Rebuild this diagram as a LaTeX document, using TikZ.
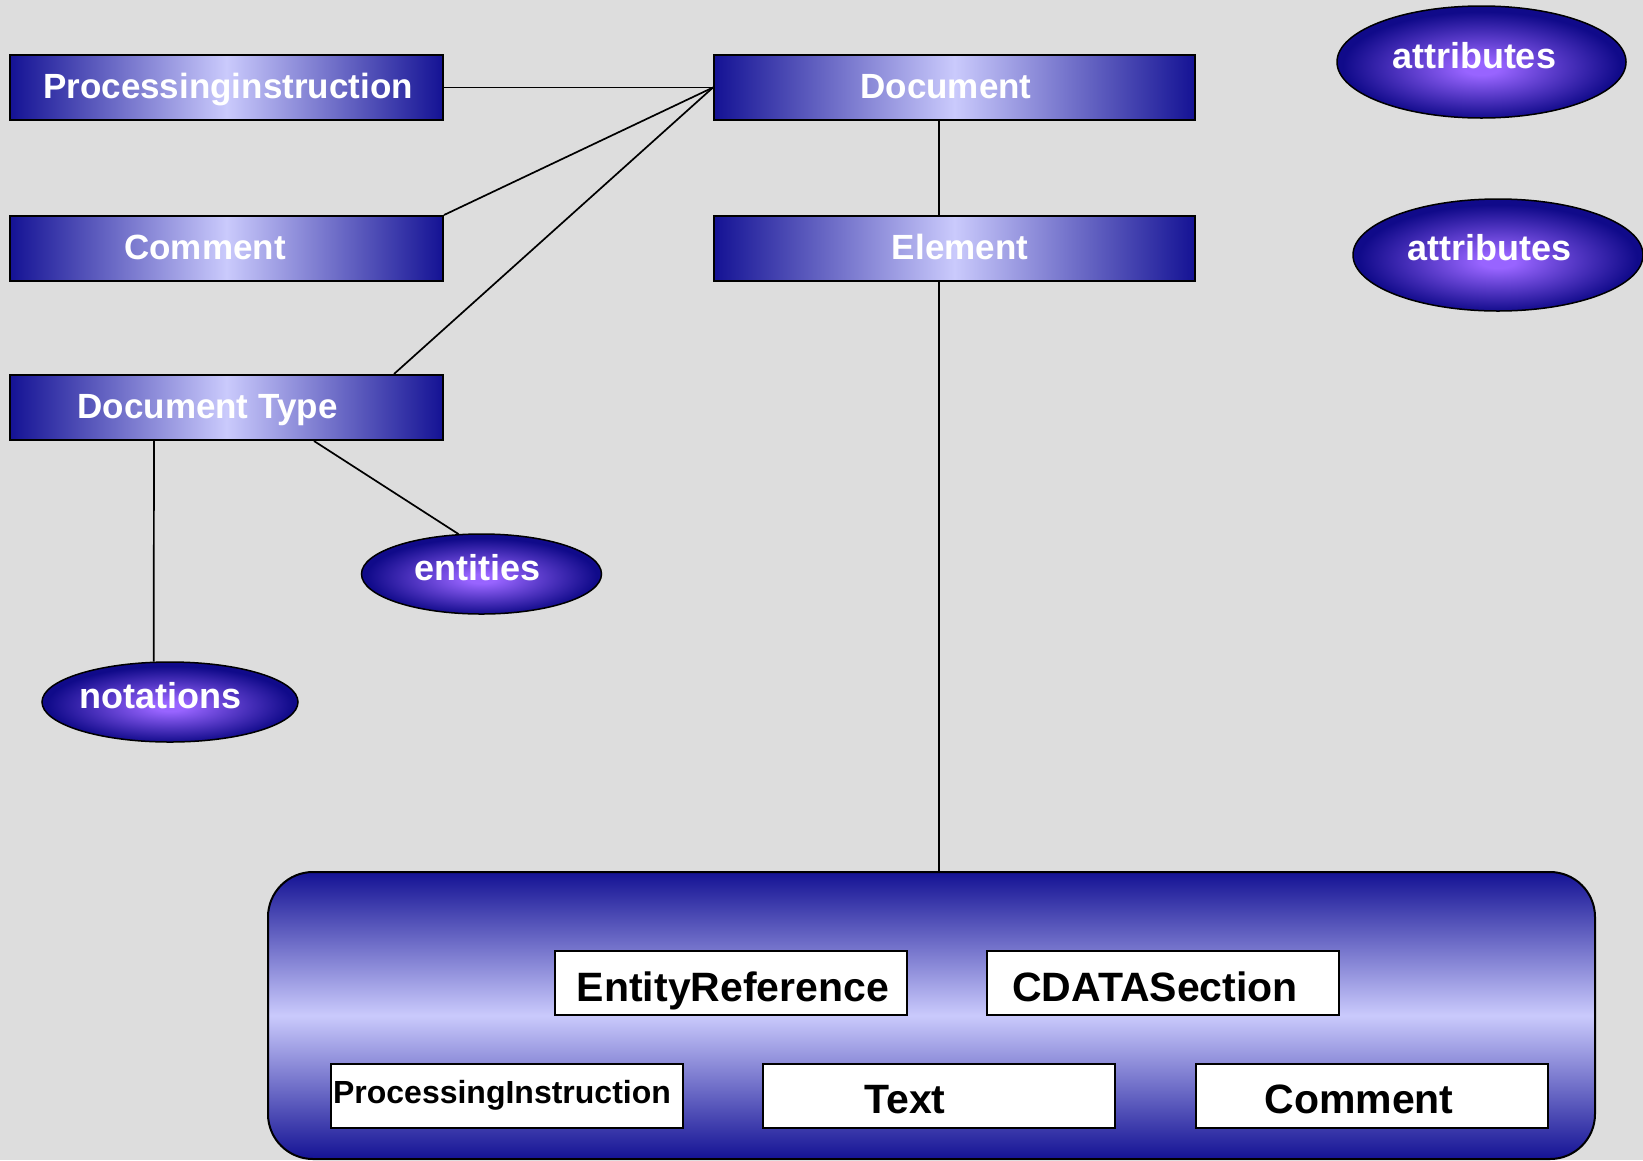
\documentclass[tikz,border=0pt]{standalone}
\usepackage{fontspec}
\setmainfont{Liberation Sans}
\usetikzlibrary{shapes.geometric,calc}

\definecolor{paper}{RGB}{221,221,221}
\definecolor{barEdge}{RGB}{20,18,148}
\definecolor{barMid}{RGB}{202,202,252}
\definecolor{glowMid}{RGB}{152,100,255}
\definecolor{glowEdge}{RGB}{16,10,138}

% soft violet glow for the collection ovals (path spans the inner 25bp radius)
\pgfdeclareradialshading{ovalglow}{\pgfpoint{0bp}{-3bp}}{%
  color(0bp)=(glowMid); color(3bp)=(glowMid); color(24bp)=(glowEdge); color(50bp)=(glowEdge)}

\tikzset{
  bar/.style={draw=black, line width=2pt, left color=barEdge, right color=barEdge,
    middle color=barMid, minimum height=65pt, inner sep=0pt, anchor=north west},
  oval/.style={ellipse, draw=black, line width=1.5pt, shade, shading=ovalglow, inner sep=0pt},
  plate/.style={draw=black, line width=2pt, fill=white, minimum width=352pt,
    minimum height=64pt, inner sep=0pt, anchor=north west},
  wlabel/.style={text=white, font=\fontsize{35}{40}\selectfont\bfseries, anchor=base, inner sep=0pt},
  olabel/.style={text=white, font=\fontsize{36}{40}\selectfont\bfseries, anchor=base, inner sep=0pt},
  blabel/.style={text=black, font=\fontsize{41}{46}\selectfont\bfseries, anchor=base, inner sep=0pt},
  link/.style={draw=black, line width=1.7pt},
}

\begin{document}
\begin{tikzpicture}[x=1pt, y=-1pt]
  \useasboundingbox (0,0) rectangle (1643,1160);
  \fill[paper] (0,0) rectangle (1643,1160);

  % node types
  \node[bar, minimum width=433pt] (pinstr) at (9,54) {};
  \node[wlabel] (pinstrT) at (228,98) {Processinginstruction};
  \node[bar, minimum width=481pt] (doc) at (713,54) {};
  \node[wlabel] (docT) at (946,98) {Document};
  \node[bar, minimum width=433pt] (comm) at (9,215) {};
  \node[wlabel] (commT) at (205,259) {Comment};
  \node[bar, minimum width=481pt] (elem) at (713,215) {};
  \node[wlabel] (elemT) at (960,259) {Element};
  \node[bar, minimum width=433pt] (dtype) at (9,374) {};
  \node[wlabel] (dtypeT) at (207.5,418) {Document Type};

  % named collections
  \node[oval, minimum width=289pt, minimum height=112pt] (attrA) at (1481.5,62) {};
  \node[olabel] (attrAT) at (1474,68) {attributes};
  \node[oval, minimum width=290pt, minimum height=112pt] (attrB) at (1498,255) {};
  \node[olabel] (attrBT) at (1489.5,260) {attributes};
  \node[oval, minimum width=240pt, minimum height=80pt] (ent) at (481.5,574) {};
  \node[olabel] (entT) at (477.5,580) {entities};
  \node[oval, minimum width=256pt, minimum height=80pt] (nota) at (170,702) {};
  \node[olabel] (notaT) at (160.5,708) {notations};

  % child nodes of an element
  \node[draw=black, line width=2pt, rounded corners=45pt, top color=barEdge,
    bottom color=barEdge, middle color=barMid, minimum width=1327pt,
    minimum height=287pt, inner sep=0pt, anchor=north west] (kids) at (267,871) {};
  \node[plate] (entref) at (554,950) {};
  \node[blabel] (entrefT) at (733,1001.5) {EntityReference};
  \node[plate] (cdata) at (986,950) {};
  \node[blabel] (cdataT) at (1155,1001.5) {CDATASection};
  \node[plate] (pi2) at (330,1062.5) {};
  \node[blabel, font=\fontsize{32}{36}\selectfont\bfseries] (pi2T) at (502,1103) {ProcessingInstruction};
  \node[plate] (txt) at (762,1062.5) {};
  \node[blabel] (txtT) at (905,1113) {Text};
  \node[plate] (comm2) at (1194.5,1062.5) {};
  \node[blabel] (comm2T) at (1359,1113) {Comment};

  % connectors
  \coordinate (docTap) at ($(doc.south)+(-15.5,0)$);
  \coordinate (elemTap) at ($(elem.south)+(-15.5,0)$);
  \draw[link] (pinstr.east) -- (doc.west);
  \draw[link] (comm.north east) -- (doc.west);
  \draw[link] ($(dtype.north west)+(385,0)$) -- (doc.west);
  \draw[link] (docTap) -- (docTap |- elem.north);
  \draw[link] (elemTap) -- (elemTap |- kids.north);
  \draw[link] ($(dtype.south west)+(145,0)$) -- (nota.112);
  \draw[link] ($(dtype.south west)+(305,0)$) -- (ent.120);
\end{tikzpicture}
\end{document}
